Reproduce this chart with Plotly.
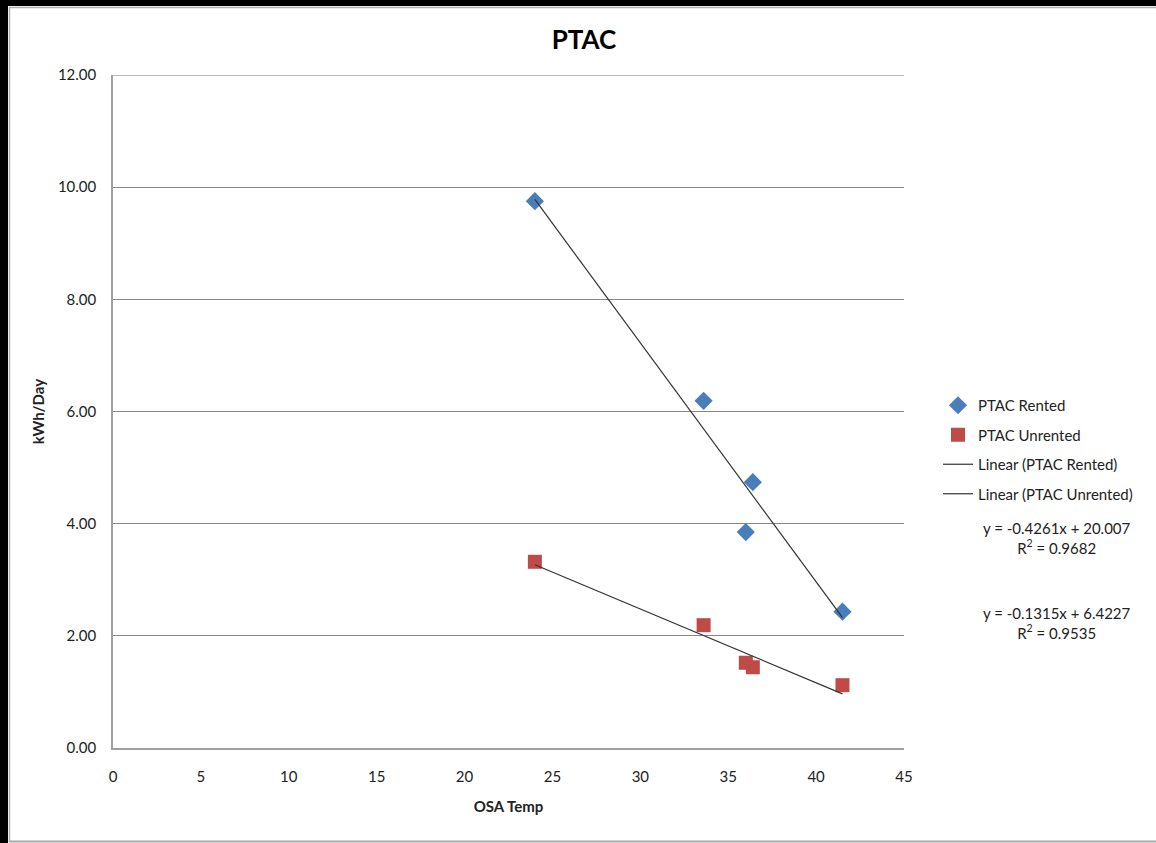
import numpy as np
import plotly.graph_objects as go

# Data
rented_x = [24.0, 33.6, 36.4, 36.0, 41.5]
rented_y = [9.75, 6.19, 4.74, 3.85, 2.43]
unrented_x = [24.0, 33.6, 36.0, 36.4, 41.5]
unrented_y = [3.32, 2.19, 1.52, 1.44, 1.12]

rented_fit = {"slope": -0.4261, "intercept": 20.007, "r2": 0.9682}
unrented_fit = {"slope": -0.1315, "intercept": 6.4227, "r2": 0.9535}

y_ticks = [0, 2, 4, 6, 8, 10, 12]
x_ticks = [0, 5, 10, 15, 20, 25, 30, 35, 40, 45]

W, H = 1156, 843
L, R, T, B = 113, 252, 75, 95
pw, ph = W - L - R, H - T - B


def px_x(p):
    return (p - L) / pw


def px_y(p):
    return 1 - (p - T) / ph


FONT = "Lato, 'Open Sans', sans-serif"
FS = 15

fig = go.Figure()

fig.add_trace(go.Scatter(
    x=rented_x, y=rented_y, mode="markers", name="PTAC Rented",
    marker=dict(symbol="diamond", size=14, color="#4a7ebb"),
    legendgroup="a"))
fig.add_trace(go.Scatter(
    x=unrented_x, y=unrented_y, mode="markers", name="PTAC Unrented",
    marker=dict(symbol="square", size=14, color="#be4b48"),
    legendgroup="b"))

for xs, fit, nm, g in [(rented_x, rented_fit, "Linear (PTAC Rented)", "c"),
                       (unrented_x, unrented_fit, "Linear (PTAC Unrented)", "d")]:
    lx = np.array([min(xs), max(xs)])
    ly = fit["slope"] * lx + fit["intercept"]
    fig.add_trace(go.Scatter(x=lx, y=ly, mode="lines", name=nm,
                             line=dict(color="#333333", width=1.2),
                             legendgroup=g))

fig.update_layout(
    width=W, height=H, autosize=False,
    margin=dict(l=L, r=R, t=T, b=B),
    paper_bgcolor="white", plot_bgcolor="white",
    font=dict(family=FONT, size=FS, color="#222222"),
    title=dict(text="<b>PTAC</b>", x=px_x(584), xref="paper", xanchor="center",
               y=1 - 40 / H, yanchor="middle",
               font=dict(size=26, family=FONT, color="#000000")),
    showlegend=True,
    legend=dict(x=px_x(938), y=px_y(389), xanchor="left", yanchor="top",
                font=dict(size=FS, family=FONT, color="#222222"),
                tracegroupgap=7, itemwidth=30, bgcolor="rgba(0,0,0,0)"),
    xaxis=dict(range=[0, 45], tickvals=x_ticks, showgrid=False, zeroline=False,
               showline=True, linecolor="#a0a0a0", linewidth=1.5,
               ticks="", ticklabelstandoff=14,
               title=dict(text="<b>OSA Temp</b>", standoff=18,
                          font=dict(size=FS, family=FONT))),
    yaxis=dict(range=[0, 12], tickvals=y_ticks, tickformat=".2f",
               showgrid=True, gridcolor="#868686", gridwidth=1, zeroline=False,
               showline=True, linecolor="#a0a0a0", linewidth=1.5,
               ticks="", ticklabelstandoff=12,
               title=dict(text="<b>kWh/Day</b>", standoff=10,
                          font=dict(size=FS, family=FONT))),
)

# top gridline at the range edge
fig.add_shape(type="line", xref="paper", yref="y", x0=0, x1=1,
              y0=y_ticks[-1], y1=y_ticks[-1],
              line=dict(color="#a0a0a0", width=1.5))

for fit, yc in [(rented_fit, 527), (unrented_fit, 612)]:
    sign = "+" if fit["intercept"] >= 0 else "-"
    fig.add_annotation(
        text=f"y = {fit['slope']:.4f}x {sign} {abs(fit['intercept']):g}<br>R<sup>2</sup> = {fit['r2']:.4f}",
        x=px_x(1057), y=px_y(yc - 10), xref="paper", yref="paper",
        xanchor="center", yanchor="top", showarrow=False, align="center",
        font=dict(size=FS, family=FONT, color="#222222"))

# Outer frame: black bars on left/top, thin gray inner lines
fig.add_shape(type="rect", xref="paper", yref="paper",
              x0=px_x(0), x1=px_x(8), y0=px_y(843), y1=px_y(0),
              fillcolor="black", line=dict(width=0))
fig.add_shape(type="rect", xref="paper", yref="paper",
              x0=px_x(0), x1=px_x(1156), y0=px_y(6), y1=px_y(0),
              fillcolor="black", line=dict(width=0))
fig.add_shape(type="line", xref="paper", yref="paper",
              x0=px_x(9.5), x1=px_x(9.5), y0=px_y(842), y1=px_y(7),
              line=dict(color="#b0b0b0", width=1.5))
fig.add_shape(type="line", xref="paper", yref="paper",
              x0=px_x(9), x1=px_x(1156), y0=px_y(7.5), y1=px_y(7.5),
              line=dict(color="#b0b0b0", width=1.5))
fig.add_shape(type="line", xref="paper", yref="paper",
              x0=px_x(9), x1=px_x(1156), y0=px_y(841.5), y1=px_y(841.5),
              line=dict(color="#a8a8a8", width=2))

fig.write_html("out.html", config={"displayModeBar": False},
               post_script="document.body.style.margin='0px';document.body.style.padding='0px';")
